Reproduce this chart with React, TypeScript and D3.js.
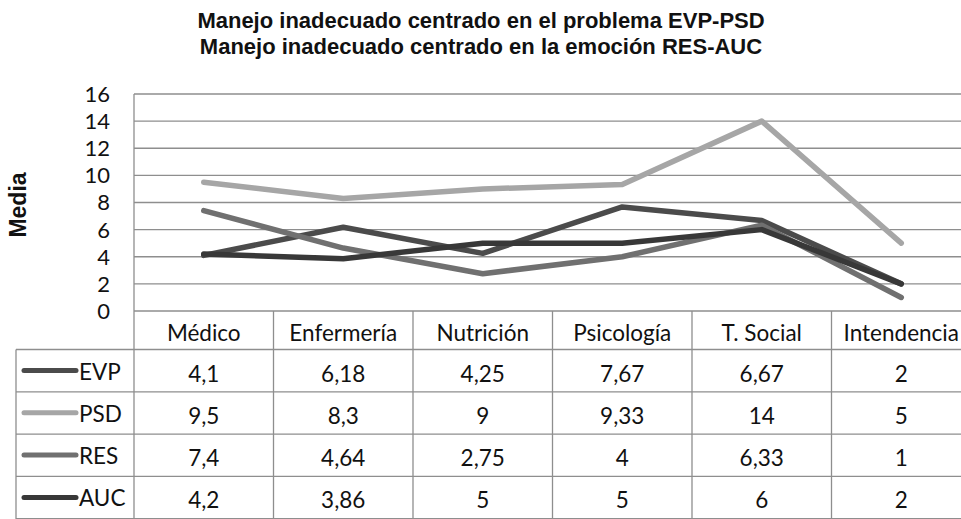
import * as d3 from "d3";
import { useEffect } from "react";

const width = 961;
const height = 519;

const categories = ["Médico", "Enfermería", "Nutrición", "Psicología", "T. Social", "Intendencia"];
const seriesNames = ["EVP", "PSD", "RES", "AUC"];
const evp = [4.1, 6.18, 4.25, 7.67, 6.67, 2];
const psd = [9.5, 8.3, 9, 9.33, 14, 5];
const res = [7.4, 4.64, 2.75, 4, 6.33, 1];
const auc = [4.2, 3.86, 5, 5, 6, 2];
const yTicks = [0, 2, 4, 6, 8, 10, 12, 14, 16];
const titleLines = [
  "Manejo inadecuado centrado en el problema EVP-PSD",
  "Manejo inadecuado centrado en la emoción RES-AUC",
];

const colors = ["#4b4b4b", "#a6a6a6", "#707070", "#383838"];
const allSeries = [evp, psd, res, auc];

// plot + table geometry
const plotLeft = 134;
const colW = 139.5;
const plotTop = 94;
const plotBottom = 311;
const legendLeft = 16;
const headerH = 38.5;
const rowH = 42.3;

const tableFont = "Lato, 'Open Sans', sans-serif";
const gridColor = "#8e8e8e";

const fmt = (v: number) => String(v).replace(".", ",");

export default function App() {
  useEffect(() => {
    document.body.style.margin = "0";
  }, []);

  const x = d3
    .scaleBand<string>()
    .domain(categories)
    .range([plotLeft, plotLeft + colW * categories.length]);
  const y = d3.scaleLinear().domain([0, 16]).range([plotBottom, plotTop]);

  const line = d3
    .line<number>()
    .x((_, i) => (x(categories[i]) as number) + x.bandwidth() / 2)
    .y((d) => y(d));

  const rowTop = (i: number) => plotBottom + headerH + i * rowH;
  const right = plotLeft + colW * categories.length;

  return (
    <svg width={width} height={height} style={{ display: "block", background: "#fff" }}>
      {/* title */}
      {titleLines.map((t, i) => (
        <text
          key={t}
          x={481}
          y={28 + i * 26}
          textAnchor="middle"
          fontFamily="'Liberation Sans', Arial, sans-serif"
          fontWeight="bold"
          fontSize={22}
          fill="#111"
        >
          {t}
        </text>
      ))}

      {/* y axis title */}
      <text
        transform={`translate(26,205) rotate(-90)`}
        textAnchor="middle"
        fontFamily="'Liberation Sans', Arial, sans-serif"
        fontWeight="bold"
        fontSize={23}
        fill="#111"
      >
        Media
      </text>

      {/* gridlines */}
      {yTicks.map((t) => (
        <line key={t} x1={plotLeft} x2={right} y1={y(t)} y2={y(t)} stroke={gridColor} strokeWidth={1.3} />
      ))}
      <line x1={plotLeft} x2={plotLeft} y1={plotTop} y2={plotBottom} stroke={gridColor} strokeWidth={1.3} />

      {/* tick labels */}
      {yTicks.map((t) => (
        <text
          key={"l" + t}
          x={110}
          y={y(t)}
          dy="0.36em"
          textAnchor="end"
          fontFamily={tableFont}
          fontSize={22}
          fill="#111"
        >
          {t}
        </text>
      ))}

      {/* series lines */}
      {allSeries.map((s, i) => (
        <path
          key={seriesNames[i]}
          d={line(s) ?? ""}
          fill="none"
          stroke={colors[i]}
          strokeWidth={5.5}
          strokeLinecap="round"
          strokeLinejoin="round"
        />
      ))}

      {/* data table: header row */}
      {categories.map((c) => (
        <g key={c}>
          <line
            x1={x(c) as number}
            x2={x(c) as number}
            y1={plotBottom}
            y2={height}
            stroke={gridColor}
            strokeWidth={1.3}
          />
          <text
            x={(x(c) as number) + x.bandwidth() / 2}
            y={plotBottom + 30}
            textAnchor="middle"
            fontFamily={tableFont}
            fontSize={22.5}
            fill="#111"
          >
            {c}
          </text>
        </g>
      ))}

      {/* row borders */}
      <line x1={legendLeft} x2={right} y1={rowTop(0)} y2={rowTop(0)} stroke={gridColor} strokeWidth={1.3} />
      {seriesNames.map((n, i) => (
        <line
          key={"b" + n}
          x1={legendLeft}
          x2={right}
          y1={rowTop(i + 1)}
          y2={rowTop(i + 1)}
          stroke={gridColor}
          strokeWidth={1.3}
        />
      ))}
      <line x1={legendLeft} x2={legendLeft} y1={rowTop(0)} y2={height} stroke={gridColor} strokeWidth={1.3} />

      {/* rows */}
      {seriesNames.map((n, i) => (
        <g key={"r" + n}>
          <line
            x1={24}
            x2={76}
            y1={rowTop(i) + 21}
            y2={rowTop(i) + 21}
            stroke={colors[i]}
            strokeWidth={5}
            strokeLinecap="round"
          />
          <text x={79} y={rowTop(i) + 30} fontFamily={tableFont} fontSize={22.5} fill="#111">
            {n}
          </text>
          {allSeries[i].map((v, j) => (
            <text
              key={j}
              x={(x(categories[j]) as number) + x.bandwidth() / 2}
              y={rowTop(i) + 32}
              textAnchor="middle"
              fontFamily={tableFont}
              fontSize={22.5}
              fill="#111"
            >
              {fmt(v)}
            </text>
          ))}
        </g>
      ))}
    </svg>
  );
}
